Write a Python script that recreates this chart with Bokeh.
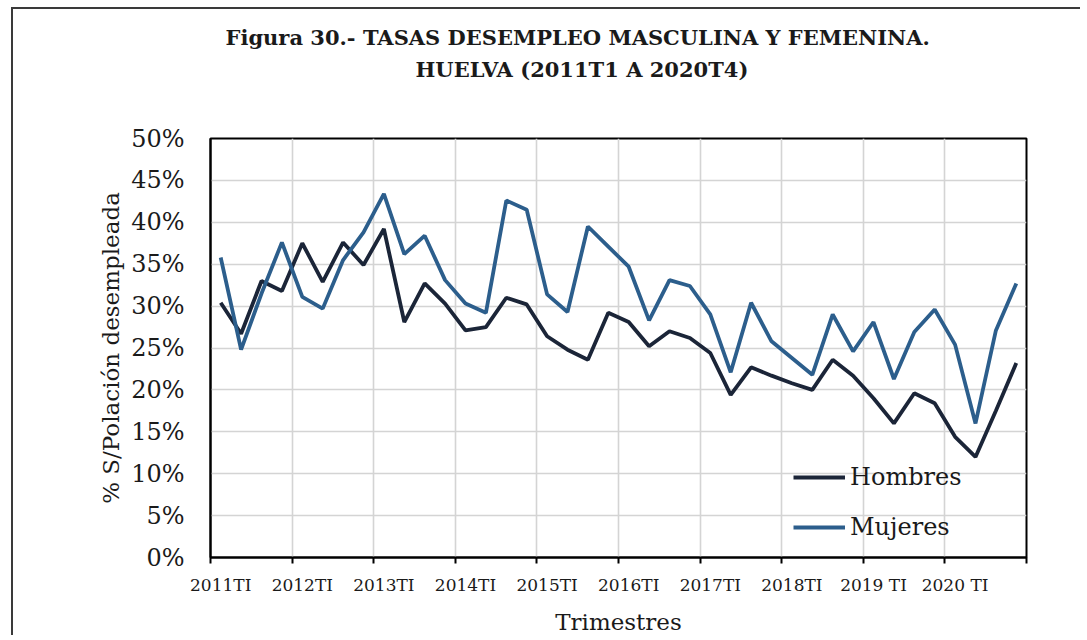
from bokeh.plotting import figure
from bokeh.models import (Range1d, FixedTicker, PrintfTickFormatter, Legend, LegendItem,
                          Title, ColumnDataSource)
from bokeh.embed import file_html
from bokeh.resources import INLINE
import numpy as np

# ---- data (percent) ----
years = list(range(2011, 2021))
quarters = [f"{y}T{q}" for y in years for q in ("I", "II", "III", "IV")]
tick_labels = ["2011TI", "2012TI", "2013TI", "2014TI", "2015TI", "2016TI",
               "2017TI", "2018TI", "2019 TI", "2020 TI"]
hombres = [30.4, 26.7, 33.0, 31.8, 37.5, 32.9, 37.6, 34.9, 39.2, 28.1,
           32.7, 30.3, 27.1, 27.5, 31.0, 30.2, 26.4, 24.8, 23.6, 29.2,
           28.1, 25.2, 27.0, 26.2, 24.4, 19.4, 22.7, 21.7, 20.8, 20.0,
           23.6, 21.7, 19.0, 16.0, 19.6, 18.4, 14.4, 12.0, 17.5, 23.2]
mujeres = [35.8, 24.8, 31.5, 37.6, 31.1, 29.7, 35.5, 38.8, 43.4, 36.2,
           38.4, 33.1, 30.3, 29.2, 42.6, 41.5, 31.4, 29.3, 39.5, 37.1,
           34.7, 28.3, 33.1, 32.4, 29.0, 22.1, 30.4, 25.8, 23.8, 21.8,
           29.0, 24.6, 28.1, 21.3, 26.9, 29.6, 25.4, 16.0, 27.1, 32.7]
y_ticks = [0, 5, 10, 15, 20, 25, 30, 35, 40, 45, 50]
title_lines = ["Figura 30.- TASAS DESEMPLEO MASCULINA Y FEMENINA.",
               "HUELVA (2011T1 A 2020T4)"]

n = len(quarters)
xpos = np.arange(n) + 0.5
src = ColumnDataSource(dict(x=xpos, h=hombres, m=mujeres, q=quarters))

FONT = "DejaVu Serif"
TXT = "#1a1a1a"

W, H = 1069, 628
p = figure(width=W, height=H, output_backend="svg", toolbar_location=None,
           x_range=Range1d(0, n), y_range=Range1d(0, 50),
           min_border_left=197, min_border_right=56, min_border_top=129,
           min_border_bottom=79)
p.styles = {"border-left": "2px solid #3a3a3a", "border-top": "2px solid #3a3a3a",
            "margin-left": "11px", "margin-top": "7px"}

p.outline_line_color = "black"
p.outline_line_width = 2

# x axis
tick_pos = [i * 4 + 0.5 for i in range(len(tick_labels))]
bounds = [i * 4 for i in range(len(tick_labels) + 1)]
xa = p.xaxis[0]
xa.ticker = FixedTicker(ticks=tick_pos, minor_ticks=bounds)
xa.major_label_overrides = {t: l for t, l in zip(tick_pos, tick_labels)}
xa.major_tick_line_color = None
xa.major_tick_out = 0
xa.major_tick_in = 0
xa.minor_tick_out = 6
xa.minor_tick_in = 0
xa.minor_tick_line_color = "black"
xa.minor_tick_line_width = 2
xa.axis_line_color = "black"
xa.axis_line_width = 2
xa.major_label_standoff = 11
xa.major_label_text_font = FONT
xa.major_label_text_font_size = "17px"
xa.major_label_text_color = TXT
xa.axis_label = "Trimestres"
xa.axis_label_text_font = FONT
xa.axis_label_text_font_size = "23px"
xa.axis_label_text_font_style = "normal"
xa.axis_label_text_color = TXT
xa.axis_label_standoff = 11

# y axis
ya = p.yaxis[0]
ya.ticker = FixedTicker(ticks=y_ticks)
ya.formatter = PrintfTickFormatter(format="%d%%")
ya.major_tick_line_color = None
ya.minor_tick_line_color = None
ya.major_tick_out = 0
ya.major_tick_in = 0
ya.axis_line_color = "black"
ya.axis_line_width = 2
ya.major_label_standoff = 26
ya.major_label_text_font = FONT
ya.major_label_text_font_size = "24px"
ya.major_label_text_color = TXT
ya.axis_label = "% S/Polación desempleada"
ya.axis_label_text_font = FONT
ya.axis_label_text_font_size = "23px"
ya.axis_label_text_font_style = "normal"
ya.axis_label_text_color = TXT
ya.axis_label_standoff = 4

# grids
p.xgrid.ticker = FixedTicker(ticks=bounds)
p.ygrid.ticker = FixedTicker(ticks=y_ticks)
for g in (p.xgrid, p.ygrid):
    g.grid_line_color = "#d4d4d4"
    g.grid_line_width = 1.6

r1 = p.line("x", "h", source=src, line_color="#1b2538", line_width=3.8)
r2 = p.line("x", "m", source=src, line_color="#2c5e8c", line_width=3.8)

legend = Legend(items=[LegendItem(label="Hombres", renderers=[r1]),
                       LegendItem(label="Mujeres", renderers=[r2])],
                location=(583, 16), glyph_width=52, glyph_height=24, label_height=24,
                spacing=22, padding=0, margin=0, label_standoff=5,
                border_line_color=None, background_fill_alpha=0,
                label_text_font=FONT, label_text_font_size="24px",
                label_text_color=TXT)
p.add_layout(legend)

# spacer between frame and title block (first added sits nearest the frame)
p.add_layout(Title(text=" ", text_font_size="1px", standoff=54), "above")
# two-line title
title_cfg = [(title_lines[1], 205, 0), (title_lines[0], 15, 10)]
for txt, off, so in title_cfg:
    t = Title(text=txt, align="left", offset=off,
              text_font=FONT, text_font_style="bold", text_font_size="21px",
              text_color=TXT, standoff=so)
    p.add_layout(t, "above")

open("out.html", "w").write(file_html(p, INLINE))
